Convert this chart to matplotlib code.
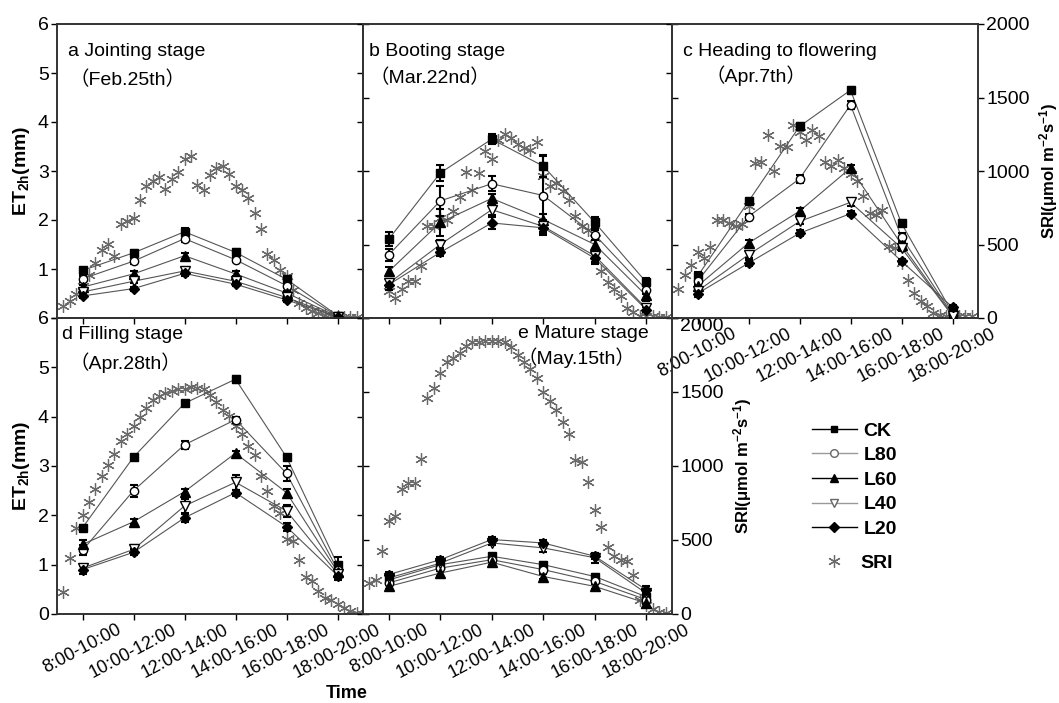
import numpy as np
import matplotlib
matplotlib.use('Agg')
import matplotlib.pyplot as plt
from matplotlib.lines import Line2D

plt.rcParams['font.family'] = ['Liberation Sans', 'Noto Sans CJK SC', 'DejaVu Sans']
plt.rcParams['mathtext.default'] = 'regular'

# time windows on the x axis
periods = ['8:00-10:00', '10:00-12:00', '12:00-14:00', '14:00-16:00', '16:00-18:00', '18:00-20:00']
period_start = [8, 10, 12, 14, 16, 18]
treatments = ['CK', 'L80', 'L60', 'L40', 'L20']

# ET2h (mm), rows follow treatments
et_a = [[0.97, 1.33, 1.76, 1.34, 0.79, 0.05],
        [0.80, 1.16, 1.62, 1.19, 0.66, 0.04],
        [0.63, 0.90, 1.27, 0.90, 0.51, 0.03],
        [0.53, 0.75, 0.96, 0.75, 0.42, 0.02],
        [0.45, 0.60, 0.91, 0.69, 0.37, 0.02]]
err_a = [[0.05, 0.06, 0.07, 0.06, 0.06, 0.02],
         [0.06, 0.06, 0.06, 0.05, 0.05, 0.02],
         [0.05, 0.05, 0.06, 0.05, 0.04, 0.02],
         [0.04, 0.04, 0.06, 0.04, 0.04, 0.02],
         [0.04, 0.04, 0.05, 0.04, 0.04, 0.02]]

et_b = [[1.61, 2.96, 3.65, 3.10, 1.95, 0.73],
        [1.29, 2.39, 2.74, 2.50, 1.70, 0.58],
        [0.95, 1.95, 2.44, 2.01, 1.50, 0.46],
        [0.71, 1.50, 2.21, 1.87, 1.27, 0.20],
        [0.68, 1.34, 1.94, 1.84, 1.22, 0.17]]
err_b = [[0.15, 0.17, 0.10, 0.22, 0.12, 0.08],
         [0.12, 0.30, 0.15, 0.80, 0.10, 0.08],
         [0.10, 0.28, 0.10, 0.12, 0.15, 0.12],
         [0.08, 0.10, 0.10, 0.12, 0.12, 0.06],
         [0.10, 0.08, 0.12, 0.12, 0.12, 0.05]]

et_c = [[0.85, 2.38, 3.91, 4.65, 1.93, 0.10],
        [0.75, 2.07, 2.84, 4.35, 1.65, 0.07],
        [0.65, 1.53, 2.18, 3.06, 1.50, 0.05],
        [0.55, 1.29, 1.97, 2.36, 1.43, 0.04],
        [0.50, 1.12, 1.73, 2.13, 1.16, 0.22]]
err_c = [[0.08, 0.05, 0.06, 0.07, 0.06, 0.03],
         [0.08, 0.06, 0.08, 0.08, 0.08, 0.03],
         [0.07, 0.06, 0.06, 0.07, 0.06, 0.03],
         [0.06, 0.06, 0.06, 0.07, 0.06, 0.03],
         [0.08, 0.06, 0.06, 0.05, 0.05, 0.05]]

et_d = [[1.75, 3.18, 4.27, 4.76, 3.18, 1.00],
        [1.29, 2.50, 3.43, 3.94, 2.85, 0.90],
        [1.41, 1.87, 2.48, 3.26, 2.46, 0.86],
        [0.93, 1.31, 2.19, 2.67, 2.09, 0.82],
        [0.90, 1.25, 1.95, 2.46, 1.77, 0.78]]
err_d = [[0.05, 0.05, 0.04, 0.07, 0.05, 0.15],
         [0.10, 0.12, 0.08, 0.06, 0.15, 0.10],
         [0.08, 0.05, 0.05, 0.05, 0.08, 0.10],
         [0.06, 0.08, 0.15, 0.15, 0.12, 0.10],
         [0.08, 0.06, 0.08, 0.06, 0.08, 0.10]]

et_e = [[0.69, 1.00, 1.17, 1.00, 0.76, 0.35],
        [0.63, 0.93, 1.10, 0.90, 0.66, 0.29],
        [0.56, 0.83, 1.05, 0.76, 0.56, 0.22],
        [0.73, 1.03, 1.44, 1.34, 1.14, 0.42],
        [0.80, 1.10, 1.51, 1.44, 1.17, 0.49]]
err_e = [[0.05, 0.05, 0.05, 0.06, 0.06, 0.08],
         [0.05, 0.05, 0.05, 0.05, 0.05, 0.08],
         [0.05, 0.05, 0.05, 0.05, 0.05, 0.08],
         [0.05, 0.06, 0.05, 0.08, 0.10, 0.08],
         [0.06, 0.06, 0.06, 0.06, 0.06, 0.08]]

# SRI (umol m-2 s-1), one reading every 15 min from the start time
sri_a_t0 = 7.25
sri_a = [79, 113, 166, 215, 295, 374, 465, 506, 424, 642, 658, 680, 805, 896, 930, 957,
         878, 948, 993, 1082, 1100, 907, 869, 975, 1021, 1032, 982, 896, 873, 816, 714,
         606, 438, 392, 329, 288, 193, 102, 68, 45, 34, 23, 16, 11, 9, 7, 5]
sri_b_t0 = 8.0
sri_b = [181, 136, 197, 249, 249, 352, 624, 624, 680, 669, 726, 823, 991, 873, 987,
         1134, 1082, 1213, 1252, 1225, 1186, 1157, 1145, 1195, 964, 896, 918, 862, 805,
         696, 624, 601, 544, 317, 243, 197, 147, 68, 39, 16, 11, 11, 9, 7]
sri_c_t0 = 7.25
sri_c = [197, 292, 360, 449, 408, 483, 669, 664, 646, 628, 640, 760, 1055, 1059, 1247,
         998, 1172, 1163, 1310, 1263, 1213, 1281, 1236, 1059, 1032, 1077, 1020, 982, 930,
         828, 714, 703, 733, 488, 476, 374, 261, 170, 113, 79, 34, 23, 16, 11, 11, 11, 11]
sri_d_t0 = 7.25
sri_d = [150, 380, 583, 667, 757, 843, 933, 1007, 1083, 1167, 1217, 1267, 1333, 1390,
         1443, 1473, 1490, 1507, 1520, 1517, 1533, 1527, 1517, 1483, 1433, 1377, 1340,
         1267, 1217, 1133, 1073, 933, 833, 727, 683, 507, 490, 367, 250, 223, 157, 110,
         93, 67, 40, 17, 10, 3]
sri_e_t0 = 7.25
sri_e = [209, 231, 424, 628, 662, 844, 885, 885, 1048, 1461, 1524, 1626, 1706, 1733,
         1762, 1808, 1835, 1835, 1846, 1846, 1842, 1837, 1801, 1751, 1706, 1653, 1592,
         1497, 1438, 1377, 1297, 1218, 1043, 1030, 894, 703, 590, 454, 390, 367, 356,
         265, 95, 61, 32, 16, 9]

titles = ['a Jointing stage', 'b Booting stage', 'c Heading to flowering',
          'd Filling stage', 'e Mature stage']
dates = ['（Feb.25th）', '（Mar.22nd）', '（Apr.7th）', '（Apr.28th）', '（May.15th）']

markers = ['s', 'o', '^', 'v', 'D']
faces = ['black', 'white', 'black', 'white', 'black']
msizes = [5.5, 6, 6.5, 6.5, 5.5]
leg_line = ['black', '#999999', 'black', '#999999', 'black']
sri_marker = (6, 2, 0)


def to_pos(t):
    # clock hour -> position of the 2-h window on the x axis
    return (np.asarray(t) - period_start[0]) / (period_start[1] - period_start[0])


fig = plt.figure(figsize=(10.59, 7.03), dpi=100)
W, H = 1059, 703
boxes = [(57, 24, 363, 318), (363, 24, 672, 318), (672, 24, 978, 318),
         (57, 318, 363, 614), (363, 318, 672, 614)]

ets = [et_a, et_b, et_c, et_d, et_e]
errs = [err_a, err_b, err_c, err_d, err_e]
sris = [sri_a, sri_b, sri_c, sri_d, sri_e]
t0s = [sri_a_t0, sri_b_t0, sri_c_t0, sri_d_t0, sri_e_t0]
title_pos = [(0.036, 0.905, 0.040, 0.81), (0.02, 0.905, 0.02, 0.815),
             (0.036, 0.905, 0.11, 0.825), (0.016, 0.943, 0.04, 0.85),
             (0.50, 0.946, 0.50, 0.865)]

x = np.arange(len(periods))
for k in range(5):
    l, t, r, b = boxes[k]
    ax = fig.add_axes([l / W, 1 - b / H, (r - l) / W, (b - t) / H])
    ax2 = ax.twinx()
    ax.set_zorder(ax2.get_zorder() + 1)
    ax.patch.set_visible(False)

    # SRI on the right axis
    tt = t0s[k] + 0.25 * np.arange(len(sris[k]))
    ax2.plot(to_pos(tt), sris[k], ls='none', marker=sri_marker, ms=9, mew=0.9,
             color='#6a6a6a')
    ax2.set_ylim(0, 2000)
    ax2.set_yticks([0, 500, 1000, 1500, 2000])

    for j in range(5):
        ax.plot(x, ets[k][j], color='#555555', lw=0.8, zorder=2)
        ax.errorbar(x, ets[k][j], yerr=errs[k][j], fmt='none', ecolor='black',
                    elinewidth=1.5, capsize=3, capthick=1.5, zorder=3)
        ax.plot(x, ets[k][j], ls='none', marker=markers[j], ms=msizes[j],
                mfc=faces[j], mec='black', mew=1.0, zorder=4)

    ax.set_xlim(-0.5, 5.5)
    ax.set_ylim(0, 6)
    ax.set_xticks(x)
    ax.set_yticks(range(7))

    for a in (ax, ax2):
        a.tick_params(direction='out', length=4, width=1, labelsize=14, pad=2)
        for s in a.spines.values():
            s.set_linewidth(1.2)
            s.set_color('#333333')

    # tick labels only on outer edges
    if k in (0, 3):
        if k == 0:
            ax.set_yticklabels([''] + [str(v) for v in range(1, 7)])
        ax.set_ylabel('ET$_{2h}$(mm)', fontsize=14, fontweight='bold', labelpad=4)
    else:
        ax.set_yticklabels([])
    if k in (2, 4):
        ax2.set_ylabel('SRI(μmol m$^{-2}$s$^{-1}$)', fontsize=12, fontweight='bold', labelpad=5)
        if k == 4:
            ax2.set_yticklabels(['0', '500', '1000', '1500', '2000'])
            ax2.get_yticklabels()[-1].set_va('top')
    else:
        ax2.set_yticklabels([])
    if k in (2, 3, 4):
        ax.set_xticklabels(periods, rotation=28, ha='center', fontsize=13)
        ax.tick_params(axis='x', labelsize=13, pad=1)
    else:
        ax.set_xticklabels([])

    tx, ty, dx, dy = title_pos[k]
    ax.text(tx, ty, titles[k], transform=ax.transAxes, fontsize=14, va='center', ha='left')
    ax.text(dx, dy, dates[k], transform=ax.transAxes, fontsize=14, va='center', ha='left')

fig.text(347 / W, 1 - 694 / H, 'Time', fontsize=13, fontweight='bold', ha='center', va='center')

handles = [Line2D([], [], color=leg_line[j], lw=1, marker=markers[j], ms=msizes[j] - 0.5,
                  mfc=faces[j], mec='black' if faces[j] == 'black' else '#666666')
           for j in range(5)]
fig.legend(handles, treatments, loc='upper left',
           bbox_to_anchor=(812 / W, 1 - 422 / H), frameon=False, borderpad=0,
           borderaxespad=0, handlelength=2.3, handletextpad=0.35, labelspacing=0.36,
           prop={'size': 14, 'weight': 'bold'})
sri_handle = Line2D([], [], ls='none', marker=sri_marker, ms=9, mew=0.9, color='#6a6a6a')
fig.legend([sri_handle], ['SRI'], loc='upper left',
           bbox_to_anchor=(812 / W, 1 - 554 / H), frameon=False, borderpad=0,
           borderaxespad=0, handlelength=2.3, handletextpad=0.2,
           prop={'size': 14, 'weight': 'bold'})

fig.savefig('out.png', dpi=100)
